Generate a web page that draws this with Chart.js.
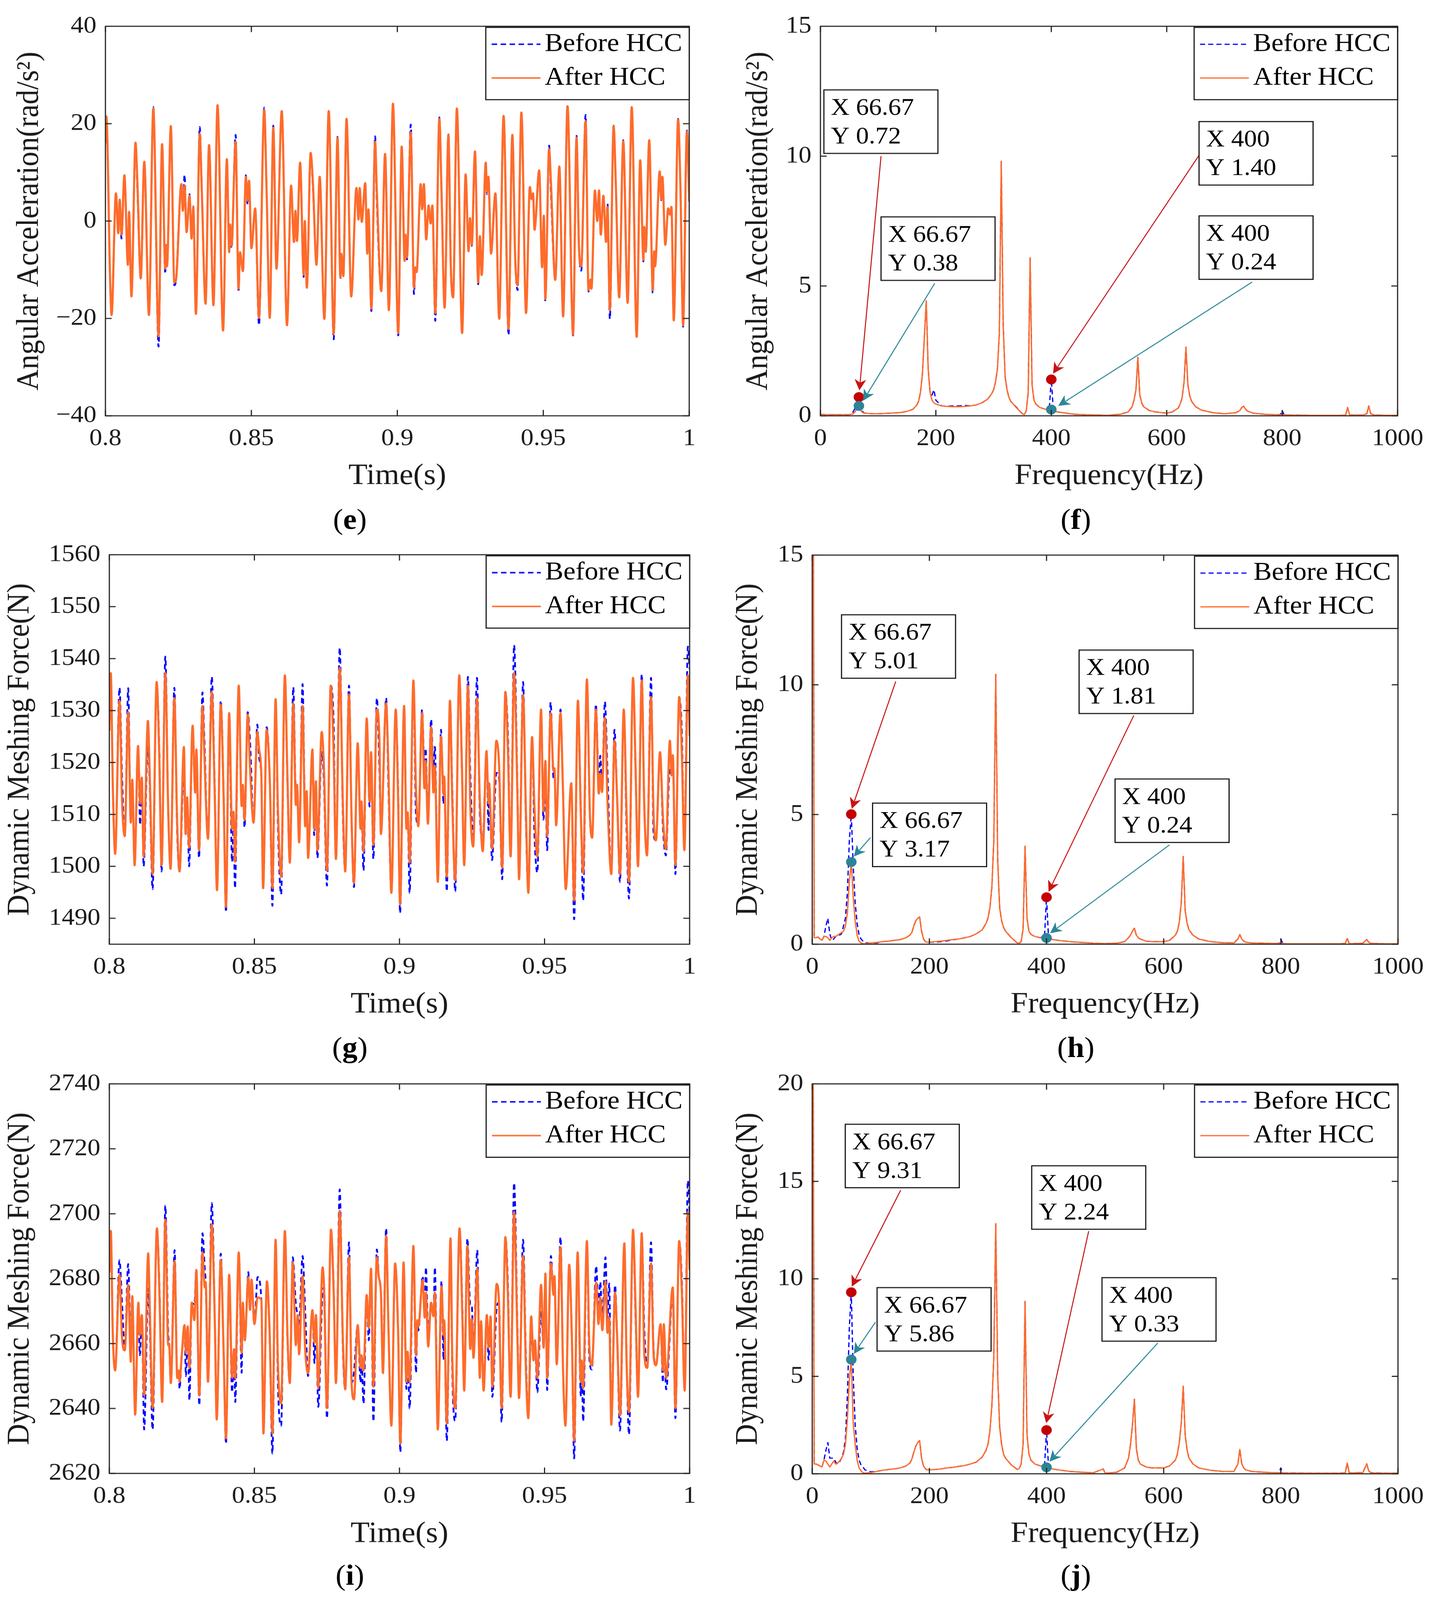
<!DOCTYPE html>
<html>
<head>
<meta charset="utf-8">
<script src="https://cdn.jsdelivr.net/npm/chart.js@4.4.1/dist/chart.umd.min.js"></script>
<style>
  html, body { margin: 0; padding: 0; background: #fff; overflow: hidden; }
  #page { position: relative; width: 3662px; height: 4360px; overflow: hidden; background: #fff; transform-origin: 0 0; }
  .cap { position: absolute; font-family: "Liberation Serif", serif; font-size: 78px; color: #000;
         transform: translate(-50%, -50%); white-space: nowrap; line-height: 1; }
</style>
</head>
<body>
<div id="page"></div>
<script>
/* ---------- tick labels ---------- */
var timeTicks = [0.8, 0.85, 0.9, 0.95, 1];
var freqTicks = [0, 200, 400, 600, 800, 1000];
var eYTicks = [-40, -20, 0, 20, 40];
var gYTicks = [1490, 1500, 1510, 1520, 1530, 1540, 1550, 1560];
var iYTicks = [2620, 2640, 2660, 2680, 2700, 2720, 2740];
var fYTicks = [0, 5, 10, 15];
var jYTicks = [0, 5, 10, 15, 20];

var seriesNames = ['Before HCC', 'After HCC'];

/* ---------- (e) angular acceleration, time domain ---------- */
var eT = [
  0.8000,0.8003,0.8016,0.8021,0.8036,0.8044,0.8049,0.8055,0.8065,0.8077,
  0.8081,0.8089,0.8103,0.8109,0.8121,0.8133,0.8149,0.8164,0.8182,0.8194,
  0.8205,0.8208,0.8211,0.8224,0.8236,0.8242,0.8260,0.8265,0.8271,0.8278,
  0.8288,0.8295,0.8301,0.8310,0.8323,0.8330,0.8343,0.8355,0.8370,0.8384,
  0.8403,0.8416,0.8424,0.8427,0.8432,0.8446,0.8456,0.8461,0.8471,0.8481,
  0.8487,0.8492,0.8500,0.8513,0.8526,0.8544,0.8552,0.8563,0.8575,0.8586,
  0.8604,0.8622,0.8636,0.8646,0.8651,0.8656,0.8667,0.8679,0.8683,0.8690,
  0.8703,0.8711,0.8723,0.8734,0.8750,0.8765,0.8782,0.8795,0.8805,0.8808,
  0.8815,0.8826,0.8842,0.8860,0.8867,0.8871,0.8878,0.8890,0.8897,0.8901,
  0.8911,0.8924,0.8929,0.8945,0.8958,0.8971,0.8985,0.9003,0.9015,0.9025,
  0.9028,0.9033,0.9046,0.9057,0.9062,0.9066,0.9080,0.9085,0.9091,0.9099,
  0.9107,0.9114,0.9120,0.9130,0.9144,0.9151,0.9162,0.9175,0.9183,0.9191,
  0.9204,0.9222,0.9234,0.9244,0.9249,0.9255,0.9266,0.9277,0.9283,0.9289,
  0.9303,0.9307,0.9312,0.9321,0.9336,0.9349,0.9364,0.9381,0.9394,0.9404,
  0.9412,0.9425,0.9441,0.9454,0.9460,0.9465,0.9470,0.9486,0.9496,0.9502,
  0.9507,0.9520,0.9526,0.9541,0.9555,0.9568,0.9583,0.9602,0.9614,0.9622,
  0.9630,0.9645,0.9655,0.9662,0.9665,0.9677,0.9685,0.9691,0.9697,0.9706,
  0.9715,0.9720,0.9728,0.9741,0.9748,0.9760,0.9774,0.9789,0.9803,0.9820,
  0.9832,0.9843,0.9846,0.9851,0.9863,0.9875,0.9880,0.9883,0.9899,0.9904,
  0.9908,0.9918,0.9928,0.9934,0.9939,0.9947,0.9962,0.9970,0.9979,0.9992,
  1.0000
];
var eAfter = [
  16,21.5,-12,-19.3,5.7,-2.5,4.4,-2.8,9.4,-9,
  1.9,-15.5,16.1,8.8,-11.8,12.2,-19.3,23.1,-23.7,15.8,
  -9.8,-4.9,-9.3,19.5,-12.6,-12,7.6,2.1,7.3,-2.3,
  5.2,-3.6,2.9,-19.1,17.9,6.5,-17,15.6,-17.3,23.8,
  -22.5,12.7,-6.4,-0.7,-5.1,16.3,-13.9,-6.4,-10.3,9.1,
  4.2,8.3,-5.6,2.6,-19.9,22.8,6.5,-19.9,19.2,-9.8,
  22.6,-21.4,7.3,-4.3,2.1,-4.1,12,-11,0,-13.7,
  14,7.6,-9,9.1,-20.1,22.6,-23.2,17.1,-11.6,-6.7,
  -11.3,21,-15.5,6.8,0.3,6.8,-0.2,7.8,-6.7,2.4,
  -18,16.3,7.6,-14.4,13.8,-18.3,24.1,-23,15.3,-8.2,
  -2.8,-7.5,18.2,-13.7,-9.5,-10.5,7.6,2.4,7.6,-3.8,
  3.2,-0.5,3.2,-18.9,21,7,-17.8,17.7,-8.8,-15.7,
  23.1,-23,9.6,-6.2,0.6,-4.9,14.3,-12.6,-3.1,-11.1,
  12,6,9.1,-6.7,5.7,-20.1,21.6,-22.2,17.7,-8,
  -13.2,22.3,-18.9,7,4.5,5.7,-1.8,10.4,-9.5,1.1,
  -16,14.8,8.3,-12.1,11.2,-19.6,23.6,-23.3,17.1,-4.9,
  -9.3,20.5,-14.2,-12,-13.9,6.3,0,6.3,-2.8,5.2,
  -4.3,2.9,-18.3,19.5,8.6,-15.7,16.4,-16.8,23.4,-23.8,
  12.5,-8,-1.2,-6.2,16.6,-14.2,-6.2,-9.3,10.2,4.5,
  9.1,-4.9,2.6,1.3,2.9,-20.4,20.8,6.5,-21.4,18.4,
  4
];
var eBefore = [
  16,21.5,-12,-19.3,5.7,-2.5,4.4,-3.6,9.4,-9,
  1.9,-15.5,16.1,7.3,-11.8,12.2,-19.3,23.4,-25.8,15.8,
  -10.8,-4.9,-9.3,19.5,-13.2,-12,7.6,2.1,9.5,-2.3,
  5.5,-3.6,3,-19.1,19.3,6.8,-17,15.6,-17.3,23.8,
  -22.5,12.7,-6.4,-0.7,-5.6,17.7,-14.6,-6.4,-10.3,9.4,
  3.4,8.3,-5.6,2.3,-21.4,23.3,6.5,-19.9,19.6,-9.8,
  22.6,-21.4,7.3,-4.6,2.1,-4.1,12,-11.5,0,-13.8,
  14,6.8,-9,9.1,-20.1,22.6,-24.3,17.3,-11.9,-6.7,
  -11.3,21,-15.5,6.8,0.3,7,-0.2,7.8,-6.7,2.4,
  -18.5,17.4,5.6,-14.4,13.8,-18.3,24.1,-23.5,15.5,-8.2,
  -2.8,-7.9,19.8,-15,-9.5,-10.5,7.6,2.4,7.6,-3.8,
  3.2,-0.5,3.2,-20.5,21.3,7,-17.8,17.8,-9.3,-15.7,
  23.1,-23,9.6,-6.2,0.7,-5.1,14.3,-13,-3.1,-11.1,
  12,5.5,9.1,-6.7,5.7,-20.1,21.6,-23.4,18,-8,
  -14.2,22.3,-18.9,7,4.5,5.7,-1.8,10.5,-9.5,1.1,
  -16.5,15.5,6.2,-12.1,11.2,-19.6,23.6,-23.5,17.5,-4.9,
  -10.2,21.8,-14.5,-12,-13.9,6.3,0,6.3,-2.8,5.2,
  -4.3,3.6,-20.1,19.6,8.6,-15.7,16.6,-16.8,23.4,-23.8,
  12.5,-8.3,-1.2,-6.3,16.6,-14.8,-6.2,-9.3,10.2,4.3,
  9.2,-4.9,2.6,1.3,2.9,-20.4,21,6.5,-21.7,18.6,
  4
];

/* ---------- (g) dynamic meshing force, time domain ---------- */
var gT = [
  0.8000,0.8005,0.8012,0.8020,0.8035,0.8044,0.8053,0.8065,0.8074,0.8079,
  0.8087,0.8099,0.8106,0.8112,0.8118,0.8133,0.8139,0.8149,0.8163,0.8172,
  0.8180,0.8193,0.8203,0.8211,0.8224,0.8234,0.8242,0.8257,0.8263,0.8268,
  0.8275,0.8287,0.8296,0.8300,0.8309,0.8321,0.8327,0.8340,0.8353,0.8363,
  0.8371,0.8384,0.8394,0.8402,0.8413,0.8423,0.8428,0.8433,0.8446,0.8456,
  0.8460,0.8466,0.8477,0.8485,0.8497,0.8510,0.8516,0.8524,0.8530,0.8542,
  0.8553,0.8562,0.8573,0.8581,0.8592,0.8605,0.8614,0.8622,0.8634,0.8643,
  0.8647,0.8654,0.8666,0.8675,0.8680,0.8685,0.8700,0.8706,0.8712,0.8717,
  0.8732,0.8739,0.8750,0.8763,0.8773,0.8781,0.8794,0.8805,0.8813,0.8826,
  0.8835,0.8843,0.8856,0.8866,0.8869,0.8876,0.8887,0.8897,0.8902,0.8910,
  0.8922,0.8931,0.8936,0.8954,0.8962,0.8972,0.8987,0.8995,0.9002,
  0.9016,0.9024,0.9028,0.9035,0.9048,0.9057,0.9065,0.9078,0.9086,0.9090,
  0.9098,0.9109,0.9117,0.9122,0.9132,0.9143,0.9152,0.9154,0.9163,0.9174,
  0.9182,0.9192,0.9206,0.9215,0.9223,0.9236,0.9244,0.9254,0.9267,0.9277,
  0.9287,0.9300,0.9307,0.9309,0.9319,0.9334,0.9343,0.9354,0.9365,0.9374,
  0.9383,0.9395,0.9407,0.9412,0.9426,0.9436,0.9444,0.9457,0.9465,0.9475,
  0.9488,0.9496,0.9503,0.9509,0.9521,0.9531,0.9534,0.9540,0.9555,0.9563,
  0.9573,0.9592,0.9602,0.9615,0.9625,0.9633,0.9646,0.9656,0.9664,0.9677,
  0.9687,0.9692,0.9698,0.9708,0.9717,0.9730,0.9741,0.9750,0.9760,0.9773,
  0.9783,0.9791,0.9805,0.9814,0.9822,0.9835,0.9844,0.9853,0.9867,0.9876,
  0.9884,0.9898,0.9908,0.9918,0.9932,0.9938,0.9942,0.9951,0.9964,0.9973,
  0.9982,0.9994,1.0000
];
var gAfter = [
  1526.1,1537.2,1515.4,1502.4,1531.9,1512.3,1505.8,1529.7,1508.4,1516.7,
  1500.2,1523.2,1512.1,1517.1,1501.9,1528,1518.1,1498.5,1535.5,1521.3,
  1500.2,1537.2,1510.6,1499.5,1532.4,1507.9,1499,1523,1506.2,1513.3,
  1503.6,1527.1,1514.2,1522.5,1503.1,1530.9,1522.2,1505.3,1533.6,1514.5,
  1495.4,1531.2,1513,1492.2,1529.5,1507.2,1510.5,1500.9,1534.8,1511.6,
  1515.7,1508.9,1529.2,1518.8,1508.4,1525.9,1522.7,1517.1,1495.8,1526.3,
  1516.7,1495.8,1532.2,1511.1,1498,1536.8,1516.9,1500.7,1531.4,1511.8,
  1515.7,1504.6,1530.9,1507.7,1514.5,1501.6,1522.5,1507.2,1516.4,1503.1,
  1525.9,1520,1499.2,1534.8,1522.2,1501.4,1538.2,1511.8,1499,1533.1,
  1508.7,1496.8,1523.7,1507.2,1512.5,1502.9,1528.5,1512.5,1522,1504.1,
  1530.2,1523.9,1506.2,1531.4,1518.4,1494.9,1530.2,1513.8,1492.7,
  1530.9,1507.2,1510.4,1500.7,1535.8,1514.7,1507.7,1529.5,1515,1520.3,
  1508.2,1526.8,1514.2,1519.3,1497,1525,1513.8,1517.3,1498,1531.9,
  1512.5,1497.3,1536.8,1519.8,1500.2,1534.8,1511.8,1503.8,1532.4,1512.5,
  1502.9,1522.2,1512.1,1516,1503.4,1524.2,1519.8,1499.7,1533.6,1521.7,
  1501.9,1537.2,1512.5,1497.5,1532.9,1510.1,1494.9,1524.9,1511.6,1501.9,
  1530.2,1510.6,1520.3,1505.8,1529.5,1518.4,1518.9,1507.9,1529.5,1515.7,
  1495.6,1516,1493.4,1531.9,1510.1,1498.7,1536,1510.6,1505.5,1530.2,
  1514,1517.9,1514.3,1528.6,1512.5,1498.5,1524.2,1513.3,1498.5,1530.2,
  1509.6,1497,1536.3,1518.4,1500,1535.8,1511.1,1502.1,1532.6,1509.6,
  1505,1522,1509.6,1503.3,1524.2,1517.5,1521.4,1500.2,1532.6,1522.2,
  1503.1,1536.8,1525.1
];
var gBefore = [
  1526.1,1537.2,1515.4,1502.4,1534.4,1517,1505.8,1534.3,1508.4,1516.7,
  1500.2,1523.2,1508,1517.1,1500,1523,1516,1495.6,1535.5,1523,
  1499,1540.4,1510.6,1499.5,1534.4,1506,1499,1518.5,1506.2,1513.3,
  1500,1527.1,1514.2,1522.5,1501.6,1533.5,1525.4,1505.3,1536.5,1516,
  1495.4,1531.9,1514,1491.2,1529.5,1500.9,1508,1495.8,1534.8,1511.6,
  1515.7,1507.5,1529.7,1524,1508.4,1527.3,1521,1517.1,1495.4,1526.8,
  1516.7,1492.4,1532.2,1508,1494.6,1536.8,1515.5,1500.7,1534.5,1514,
  1515.7,1504.6,1535.1,1510,1514.5,1501.6,1522.5,1506,1516.4,1501.6,
  1522,1517,1496.3,1534.8,1527.5,1501.4,1542.1,1509.3,1499,1534.8,
  1508.7,1496,1523.7,1507.2,1511,1499.2,1528.5,1511.5,1522,1501.4,
  1532.4,1518.5,1506.2,1532.4,1515,1494.9,1530.2,1516,1491,
  1530.9,1507.2,1510.4,1494.9,1535.8,1510,1508,1530.2,1519,1522.7,
  1510,1528.3,1519,1523,1497,1526.3,1512,1517.3,1495.2,1531.9,
  1515,1495.2,1536.8,1520.3,1500.2,1536.5,1518,1505,1536.3,1510,
  1505,1522.2,1507,1516,1501.2,1518,1517,1497.5,1533.6,1525,
  1501.9,1542.6,1514,1497.5,1535.5,1508,1494.9,1524.9,1506.5,1498.8,
  1530.2,1509,1515,1503.1,1531.6,1517,1518.9,1507.9,1530.2,1515.7,
  1495.6,1516,1489.8,1531.9,1511,1493.4,1536,1510,1505.5,1531.2,
  1516,1521.3,1515.5,1531.7,1518,1498.5,1526.3,1513.3,1497,1530.2,
  1506,1493.8,1536.3,1517.5,1500,1537,1511.1,1502.1,1536.3,1506,
  1505,1522,1507.5,1502.1,1519,1517.5,1521.4,1498.5,1532.6,1526,
  1503.1,1542.3,1538
];

/* ---------- (i) dynamic meshing force, time domain ---------- */
var iT = [
  0.8000,0.8005,0.8012,0.8020,0.8035,0.8044,0.8053,0.8065,0.8074,0.8079,
  0.8089,0.8100,0.8105,0.8112,0.8120,0.8134,0.8139,0.8149,0.8164,0.8173,
  0.8182,0.8193,0.8203,0.8206,0.8212,0.8225,0.8234,0.8239,0.8242,0.8249,
  0.8259,0.8264,0.8270,0.8276,0.8284,0.8293,0.8300,0.8310,0.8321,0.8329,
  0.8332,0.8340,0.8353,0.8364,0.8370,0.8384,0.8394,0.8402,0.8413,0.8423,
  0.8430,0.8434,0.8446,0.8456,0.8460,0.8467,0.8479,0.8485,0.8490,0.8500,
  0.8511,0.8524,0.8531,0.8543,0.8552,0.8562,0.8573,0.8581,0.8592,0.8605,
  0.8614,0.8622,0.8632,0.8643,0.8649,0.8654,0.8666,0.8675,0.8685,0.8700,
  0.8707,0.8712,0.8720,0.8735,0.8740,0.8750,0.8764,0.8773,0.8781,0.8794,
  0.8805,0.8813,0.8826,0.8835,0.8843,0.8856,0.8866,0.8869,0.8876,0.8887,
  0.8894,0.8902,0.8910,0.8922,0.8929,0.8936,0.8943,0.8954,0.8962,0.8972,
  0.8985,0.8995,0.9003,0.9014,0.9024,0.9028,0.9035,0.9048,0.9057,0.9062,
  0.9065,0.9080,0.9087,0.9091,0.9099,0.9109,0.9117,0.9122,0.9132,0.9145,
  0.9152,0.9154,0.9163,0.9176,0.9182,0.9192,0.9207,0.9217,0.9223,0.9234,
  0.9244,0.9249,0.9255,0.9268,0.9277,0.9281,0.9290,0.9301,0.9307,0.9314,
  0.9320,0.9335,0.9343,0.9352,0.9365,0.9373,0.9383,0.9395,0.9407,0.9412,
  0.9426,0.9436,0.9444,0.9454,0.9462,0.9467,0.9475,0.9488,0.9497,0.9503,
  0.9509,0.9522,0.9531,0.9534,0.9542,0.9555,0.9564,0.9572,0.9585,0.9594,
  0.9602,0.9614,0.9625,0.9628,0.9633,0.9646,0.9654,0.9663,0.9678,0.9686,
  0.9692,0.9699,0.9710,0.9717,0.9723,0.9730,0.9743,0.9750,0.9760,0.9775,
  0.9783,0.9791,0.9805,0.9814,0.9822,0.9835,0.9844,0.9854,0.9867,0.9876,
  0.9884,0.9900,0.9908,0.9911,0.9919,0.9942,0.9951,0.9964,0.9973,0.9983,
  0.9994,1.0000
];
var iAfter = [
  2681.9,2694.7,2662.6,2651.7,2681.2,2661.4,2657.9,2678.1,2654.4,2674.6,
  2638.1,2672.6,2662.6,2668.8,2644,2687.8,2672.6,2640.1,2695.5,2674.2,
  2642,2698.2,2659.5,2660,2647.8,2685.4,2649.4,2651.7,2648.2,2655.6,
  2665.7,2657.1,2665.3,2652.5,2672.6,2667.2,2682.7,2644,2688.1,2677.3,
  2679,2648.2,2696.7,2664.9,2636.6,2685.8,2657.1,2630.8,2681.2,2649.4,
  2658.3,2649.4,2688.1,2657.1,2672.6,2661,2680.4,2670.4,2679.7,2666,
  2674.2,2673.4,2632.3,2679.2,2664.9,2632.3,2692,2654,2641.6,2694.7,
  2662.6,2647.8,2685,2659.5,2668.8,2656.7,2680.8,2658.3,2650.9,2670.3,
  2660.2,2668.8,2646.3,2683.5,2677.3,2640.1,2695.1,2676.5,2647.8,2700.9,
  2661,2645.9,2686.6,2647.8,2642.8,2665.7,2652.5,2656.4,2651.7,2675,
  2664.9,2683.1,2646.7,2686.6,2680.4,2675.7,2650.9,2693.2,2664.9,2634.7,
  2684.7,2664.9,2629.2,2685,2648.2,2657.5,2648.2,2690.1,2656.4,2667.2,
  2665.3,2679.6,2668,2675.7,2659.1,2672.6,2668.4,2675.7,2633.5,2677.7,
  2662.6,2667.2,2635.4,2692.4,2655.6,2640.1,2695.5,2667.2,2645.5,2690.1,
  2658.3,2667.6,2655.6,2683.1,2649.4,2666.9,2645.5,2668.8,2658.7,2668.4,
  2646.7,2678.4,2672.6,2640.1,2692.8,2676.5,2643.6,2700.5,2659.9,2643.2,
  2687,2651,2637,2668.4,2654.8,2661,2649.4,2678.1,2658.7,2681.6,
  2649.4,2684.7,2675,2680.8,2653.6,2689.7,2651,2634.7,2684.3,2662.6,
  2630,2688.1,2648.2,2654.8,2646.3,2691.6,2660.2,2653.3,2678.8,2666,
  2674.2,2664.1,2679.2,2663.3,2668,2635,2675.7,2662.6,2637.8,2690.9,
  2653.3,2638.9,2695.1,2670.3,2643.6,2694,2656.4,2652.5,2684.7,2656.4,
  2653.3,2666,2651.7,2666,2649.4,2677.3,2640.1,2691.6,2676.5,2645.5,
  2700.5,2682.7
];
var iBefore = [
  2681.9,2694.7,2662.6,2651.7,2685.7,2672,2658,2684.5,2660,2674.6,
  2638.1,2672.6,2656.4,2668.8,2633.5,2677,2667,2633.5,2695.5,2676.5,
  2642,2702.5,2663,2660,2647.8,2688.8,2649.4,2651.7,2646,2655.6,
  2664,2650,2665.3,2642.5,2672.6,2672,2682.7,2641,2694,2683,
  2679,2648.2,2703.3,2664.9,2636.6,2687.7,2657.1,2629.2,2681.2,2645,
  2658.3,2642,2688.1,2651,2672.6,2661,2682,2670.4,2679,2666,
  2680.5,2673.4,2632.3,2679.2,2664.9,2626.1,2692,2648,2634.7,2694.7,
  2661,2647.8,2686.6,2672,2668.8,2666,2687,2670,2650,2670.3,
  2654,2668.8,2640.5,2676,2677.3,2637,2695.1,2678,2647.8,2707.5,
  2658,2645.9,2691.2,2647.8,2651,2665.7,2648,2656.4,2641.5,2675,
  2661,2683.1,2636,2689,2680.4,2675.7,2655,2695.5,2664.9,2634.7,
  2684.7,2664.9,2626.5,2685,2646,2657.5,2640,2690.1,2651,2667.2,
  2664,2680.8,2668,2683.5,2663,2672.6,2668.4,2683.5,2633.5,2679.2,
  2655,2667.2,2630,2692.4,2651,2636.2,2695.5,2670,2645.5,2692.4,
  2672,2672,2658,2688.8,2649.4,2666.9,2648,2668.8,2655,2668.4,
  2643.6,2671,2672.6,2635.8,2692.8,2680.5,2643.6,2709.5,2663,2643.2,
  2692,2655,2637,2664,2654.8,2660,2645,2670,2659,2679,
  2645.7,2687,2675,2680.8,2653.6,2692.8,2651,2634.7,2684.3,2662.6,
  2624.6,2688.1,2644,2654.8,2636,2691.6,2656,2652,2683.9,2671,
  2679,2668,2686.6,2668,2678.5,2635,2678,2662.6,2633.2,2690.9,
  2654,2632,2695.1,2667,2643.6,2694,2664,2652.5,2691.2,2658,
  2653.3,2666,2648,2666,2645.9,2675,2637,2691.6,2680,2645.5,
  2710.2,2700
];

/* ---------- spectra (f), (h), (j) ---------- */
var specF = [
  0,3.33,6.67,10,13.33,16.67,20,23.33,26.67,30,
  33.33,36.67,40,43.33,46.67,50,53.33,56.67,60,63.33,
  66.67,70,73.33,76.67,80,83.33,86.67,90,100,110,
  120,130,140,150,160,166.67,170,173.33,176.67,180,
  183.33,186.67,190,193.33,196.67,200,210,220,230,240,
  250,260,270,280,290,296.67,300,303.33,306.67,310,
  313.33,316.67,320,323.33,326.67,330,340,346.67,350,353.33,
  356.67,360,363.33,366.67,370,373.33,380,390,396.67,400,
  403.33,410,420,440,460,480,496.67,500,503.33,520,
  533.33,540,543.33,546.67,550,553.33,556.67,560,570,580,
  600,610,620,623.33,626.67,630,633.33,636.67,640,643.33,
  650,660,680,700,720,726.67,730,733.33,736.67,740,
  750,770,790,796.67,800,803.33,810,850,900,910,
  913.33,916.67,920,940,946.67,950,953.33,960,980,1000
];
var fAfter = [
  0.05,0.05,0.05,0.04,0.04,0.04,0.04,0.05,0.04,0.04,
  0.05,0.04,0.04,0.05,0.04,0.05,0.06,0.08,0.15,0.3,
  0.38,0.2,0.12,0.1,0.1,0.09,0.09,0.08,0.08,0.09,
  0.1,0.11,0.13,0.17,0.25,0.4,0.55,0.9,1.6,3.0,
  4.43,1.8,0.9,0.6,0.5,0.45,0.38,0.36,0.35,0.35,
  0.36,0.38,0.42,0.5,0.65,0.85,1.0,1.3,1.8,3.2,
  9.8,3.5,1.5,1.0,0.7,0.55,0.3,0.15,0.08,0.05,
  0.2,0.9,6.08,1.2,0.6,0.45,0.32,0.25,0.24,0.24,
  0.2,0.15,0.12,0.06,0.04,0.03,0.02,0.02,0.03,0.06,
  0.15,0.35,0.6,1.0,2.25,0.8,0.5,0.35,0.2,0.15,
  0.1,0.15,0.3,0.45,0.7,1.3,2.64,1.2,0.75,0.55,
  0.35,0.22,0.12,0.08,0.12,0.2,0.32,0.37,0.25,0.18,
  0.1,0.06,0.04,0.04,0.05,0.04,0.03,0.02,0.02,0.03,
  0.32,0.04,0.03,0.03,0.08,0.38,0.08,0.03,0.02,0.02
];
var fBefore = [
  0.05,0.05,0.05,0.04,0.04,0.04,0.04,0.05,0.04,0.04,
  0.05,0.04,0.04,0.05,0.04,0.05,0.1,0.15,0.3,0.55,
  0.72,0.35,0.15,0.1,0.1,0.09,0.09,0.08,0.08,0.09,
  0.1,0.11,0.13,0.17,0.25,0.4,0.55,0.9,1.6,3.0,
  4.43,1.8,0.9,0.8,1.0,0.6,0.38,0.37,0.38,0.38,
  0.4,0.38,0.42,0.5,0.65,0.85,1.0,1.3,1.8,3.2,
  9.8,3.5,1.5,1.0,0.7,0.55,0.32,0.15,0.08,0.05,
  0.2,0.9,6.08,1.2,0.6,0.45,0.32,0.25,0.35,1.4,
  0.3,0.15,0.12,0.06,0.04,0.03,0.02,0.02,0.03,0.06,
  0.15,0.35,0.6,1.0,2.25,0.8,0.5,0.35,0.2,0.15,
  0.1,0.15,0.3,0.45,0.7,1.3,2.64,1.2,0.75,0.55,
  0.35,0.22,0.12,0.08,0.12,0.2,0.32,0.37,0.25,0.18,
  0.1,0.06,0.04,0.04,0.2,0.04,0.03,0.02,0.02,0.03,
  0.32,0.04,0.03,0.03,0.08,0.38,0.08,0.03,0.02,0.02
];
var hAfter = [
  40,0.25,0.25,0.28,0.2,0.15,0.3,0.3,0.25,0.15,
  0.25,0.3,0.3,0.35,0.4,0.45,0.5,0.7,1.2,2.4,
  3.17,1.8,0.9,0.35,0.12,0.05,0.02,0.02,0.05,0.07,
  0.1,0.12,0.15,0.18,0.25,0.35,0.45,0.7,0.9,1.0,
  1.05,0.5,0.2,0.1,0.08,0.08,0.1,0.12,0.15,0.18,
  0.2,0.25,0.3,0.4,0.55,0.8,1.0,1.4,2.2,4.0,
  10.4,3.2,1.4,0.9,0.65,0.5,0.25,0.12,0.05,0.04,
  0.1,0.6,3.78,1.0,0.5,0.38,0.3,0.25,0.24,0.24,
  0.22,0.18,0.15,0.1,0.07,0.04,0.03,0.02,0.03,0.04,
  0.1,0.25,0.35,0.5,0.62,0.35,0.25,0.2,0.12,0.1,
  0.1,0.15,0.35,0.5,0.85,1.6,3.38,1.3,0.8,0.55,
  0.35,0.2,0.1,0.06,0.05,0.2,0.37,0.2,0.12,0.08,
  0.05,0.04,0.03,0.03,0.03,0.03,0.02,0.02,0.02,0.03,
  0.22,0.03,0.02,0.04,0.18,0.08,0.04,0.03,0.02,0.02
];
var hBefore = [
  40,0.25,0.25,0.28,0.2,0.15,0.3,0.7,1.0,0.4,
  0.15,0.2,0.3,0.35,0.35,0.4,0.7,1.0,2.0,4.0,
  5.01,3.0,1.6,0.8,0.35,0.2,0.12,0.06,0.04,0.05,
  0.1,0.12,0.15,0.18,0.25,0.35,0.45,0.7,0.9,1.0,
  1.05,0.5,0.2,0.1,0.08,0.08,0.08,0.1,0.13,0.17,
  0.2,0.25,0.3,0.4,0.55,0.8,1.0,1.4,2.2,4.0,
  10.4,3.2,1.4,0.9,0.65,0.5,0.25,0.12,0.05,0.04,
  0.1,0.6,3.78,1.0,0.5,0.38,0.3,0.25,0.35,1.81,
  0.3,0.18,0.15,0.1,0.07,0.04,0.03,0.02,0.03,0.04,
  0.1,0.25,0.35,0.5,0.62,0.35,0.25,0.2,0.12,0.1,
  0.1,0.15,0.35,0.5,0.85,1.6,3.38,1.3,0.8,0.55,
  0.35,0.2,0.1,0.06,0.05,0.2,0.37,0.2,0.12,0.08,
  0.05,0.04,0.03,0.03,0.2,0.03,0.02,0.02,0.02,0.03,
  0.22,0.03,0.02,0.04,0.18,0.08,0.04,0.03,0.02,0.02
];
var jAfter = [
  40,0.5,0.5,0.45,0.4,0.35,0.7,0.65,0.5,0.35,
  0.5,0.65,0.5,0.55,0.65,0.8,1.0,1.5,2.8,4.8,
  5.86,2.6,1.5,0.7,0.3,0.15,0.05,0.03,0.06,0.12,
  0.18,0.22,0.25,0.3,0.4,0.55,0.75,1.1,1.4,1.6,
  1.7,0.8,0.4,0.25,0.2,0.2,0.22,0.25,0.3,0.33,
  0.38,0.42,0.5,0.6,0.85,1.2,1.5,2.2,3.5,6.0,
  12.84,5.0,2.4,1.5,1.0,0.8,0.45,0.3,0.22,0.27,
  0.5,1.5,8.84,2.0,1.0,0.7,0.5,0.4,0.35,0.33,
  0.3,0.25,0.2,0.12,0.08,0.05,0.25,0.04,0.03,0.08,
  0.3,0.8,1.5,2.5,3.82,1.3,0.7,0.5,0.35,0.3,
  0.3,0.4,0.7,1.0,1.6,2.6,4.49,2.0,1.2,0.8,
  0.5,0.3,0.18,0.12,0.12,0.5,1.25,0.5,0.3,0.2,
  0.12,0.08,0.05,0.05,0.06,0.05,0.04,0.03,0.03,0.05,
  0.55,0.06,0.04,0.06,0.51,0.15,0.06,0.04,0.03,0.03
];
var jBefore = [
  40,0.5,0.5,0.45,0.4,0.35,0.7,1.2,1.6,0.8,
  0.8,0.8,0.6,0.5,0.6,0.8,1.1,1.8,4.0,7.5,
  9.31,5.0,2.5,1.3,0.7,0.45,0.35,0.2,0.1,0.12,
  0.18,0.22,0.25,0.3,0.4,0.55,0.75,1.1,1.4,1.6,
  1.7,0.8,0.4,0.25,0.2,0.2,0.22,0.25,0.3,0.33,
  0.38,0.42,0.5,0.6,0.85,1.2,1.5,2.2,3.5,6.0,
  12.84,5.0,2.4,1.5,1.0,0.8,0.45,0.3,0.22,0.27,
  0.5,1.5,8.84,2.0,1.0,0.7,0.5,0.4,0.45,2.24,
  0.4,0.25,0.2,0.12,0.08,0.05,0.25,0.04,0.03,0.08,
  0.3,0.8,1.5,2.5,3.82,1.3,0.7,0.5,0.35,0.3,
  0.3,0.4,0.7,1.0,1.6,2.6,4.49,2.0,1.2,0.8,
  0.5,0.3,0.18,0.12,0.12,0.5,1.25,0.5,0.3,0.2,
  0.12,0.08,0.05,0.05,0.3,0.05,0.04,0.03,0.03,0.05,
  0.55,0.06,0.04,0.06,0.51,0.15,0.06,0.04,0.03,0.03
];

/* ---------- data tips ---------- */
var tipX = [66.67, 66.67, 400, 400];
var fTipY = [0.72, 0.38, 1.40, 0.24];
var hTipY = [5.01, 3.17, 1.81, 0.24];
var jTipY = [9.31, 5.86, 2.24, 0.33];

/* ---------- styles and placement ---------- */
var FONT = '"Liberation Serif", "Times New Roman", serif';
var INK = '#1a1a1a';
var BLUE = '#0000FF';
var ORANGE = '#FF6B2A';
var RED = '#C81414';
var TEAL = '#2A8797';
var TICK_LEN = 16;

// tip boxes: [left, top] of the box, arrow tail and head, all in data units
var fTipPlace = [
  { box: [6, 12.55],     tail: [105, 10.0],    head: [67.5, 0.98] },
  { box: [105, 7.66],    tail: [198, 5.1],     head: [74, 0.58] },
  { box: [656, 11.33],   tail: [656, 10.03],   head: [403, 1.62] },
  { box: [656, 7.7],     tail: [748, 5.15],    head: [412, 0.38] }
];
var hTipPlace = [
  { box: [50, 12.7],     tail: [142.6, 10.13], head: [67.5, 5.22] },
  { box: [103, 5.44],    tail: [99.5, 4.11],   head: [71, 3.38] },
  { box: [455.6, 11.34], tail: [549, 8.82],    head: [403.5, 2.02] },
  { box: [517, 6.37],    tail: [610, 3.83],    head: [406, 0.42] }
];
var jTipPlace = [
  { box: [56.4, 17.93],  tail: [151, 14.55],   head: [67.5, 9.6] },
  { box: [110.7, 9.55],  tail: [108, 7.78],    head: [71, 6.15] },
  { box: [374.7, 15.8],  tail: [472, 12.45],   head: [399.5, 2.6] },
  { box: [494.7, 10.06], tail: [590, 6.71],    head: [405, 0.62] }
];

var accTitle = 'Angular Acceleration(rad/s\u00B2)';
var forceTitle = 'Dynamic Meshing Force(N)';

var PANELS = [
  { tag: 'e', col: 0,    area: [270, 1765, 69, 1133],   xr: [0.8, 1], xt: timeTicks, yr: [-40, 40], yt: eYTicks,
    xTitle: 'Time(s)', yTitle: accTitle, yTitleX: 76, xTitleY: 1298, cap: [896, 1415],
    x: eT, before: eBefore, after: eAfter, time: true },
  { tag: 'f', col: 1830, area: [2101, 3579, 69, 1133],  xr: [0, 1000], xt: freqTicks, yr: [0, 15], yt: fYTicks,
    xTitle: 'Frequency(Hz)', yTitle: accTitle, yTitleX: 1943, xTitleY: 1298, cap: [2755, 1415],
    x: specF, before: fBefore, after: fAfter, time: false, tipY: fTipY, tipPlace: fTipPlace },
  { tag: 'g', col: 0,    area: [280, 1766, 1509, 2573], xr: [0.8, 1], xt: timeTicks, yr: [1485, 1560], yt: gYTicks,
    xTitle: 'Time(s)', yTitle: forceTitle, yTitleX: 52, xTitleY: 2738, cap: [896, 2854],
    x: gT, before: gBefore, after: gAfter, time: true },
  { tag: 'h', col: 1830, area: [2080, 3580, 1510, 2573], xr: [0, 1000], xt: freqTicks, yr: [0, 15], yt: fYTicks,
    xTitle: 'Frequency(Hz)', yTitle: forceTitle, yTitleX: 1917, xTitleY: 2738, cap: [2755, 2854],
    x: specF, before: hBefore, after: hAfter, time: false, tipY: hTipY, tipPlace: hTipPlace },
  { tag: 'i', col: 0,    area: [280, 1766, 2951, 4015], xr: [0.8, 1], xt: timeTicks, yr: [2620, 2740], yt: iYTicks,
    xTitle: 'Time(s)', yTitle: forceTitle, yTitleX: 52, xTitleY: 4181, cap: [896, 4292],
    x: iT, before: iBefore, after: iAfter, time: true },
  { tag: 'j', col: 1830, area: [2080, 3580, 2951, 4016], xr: [0, 1000], xt: freqTicks, yr: [0, 20], yt: jYTicks,
    xTitle: 'Frequency(Hz)', yTitle: forceTitle, yTitleX: 1917, xTitleY: 4181, cap: [2755, 4292],
    x: specF, before: jBefore, after: jAfter, time: false, tipY: jTipY, tipPlace: jTipPlace }
];

/* ---------- plugins ---------- */
// MATLAB style box with inward ticks on all four sides
var matlabAxes = {
  id: 'matlabAxes',
  afterDatasetsDraw: function(chart) {
    var a = chart.chartArea, ctx = chart.ctx, xs = chart.scales.x, ys = chart.scales.y;
    ctx.save();
    ctx.strokeStyle = '#262626';
    ctx.lineWidth = 3;
    ctx.beginPath();
    xs.ticks.forEach(function(t) {
      var px = xs.getPixelForValue(t.value);
      ctx.moveTo(px, a.bottom); ctx.lineTo(px, a.bottom - TICK_LEN);
      ctx.moveTo(px, a.top);    ctx.lineTo(px, a.top + TICK_LEN);
    });
    ys.ticks.forEach(function(t) {
      var py = ys.getPixelForValue(t.value);
      ctx.moveTo(a.left, py);  ctx.lineTo(a.left + TICK_LEN, py);
      ctx.moveTo(a.right, py); ctx.lineTo(a.right - TICK_LEN, py);
    });
    ctx.stroke();
    ctx.strokeRect(a.left, a.top, a.right - a.left, a.bottom - a.top);
    ctx.restore();
  }
};

function drawArrow(ctx, x0, y0, x1, y1, color) {
  var ang = Math.atan2(y1 - y0, x1 - x0);
  var L = 30, W = 15, notch = 21;
  var c = Math.cos(ang), s = Math.sin(ang);
  var bx = x1 - L * c, by = y1 - L * s;
  var nx = x1 - notch * c, ny = y1 - notch * s;
  ctx.strokeStyle = color;
  ctx.lineWidth = 2.6;
  ctx.beginPath(); ctx.moveTo(x0, y0); ctx.lineTo(nx, ny); ctx.stroke();
  ctx.fillStyle = color;
  ctx.beginPath();
  ctx.moveTo(x1, y1);
  ctx.lineTo(bx + W * s, by - W * c);
  ctx.lineTo(nx, ny);
  ctx.lineTo(bx - W * s, by + W * c);
  ctx.closePath();
  ctx.fill();
}

// data tip boxes with arrows
var dataTips = {
  id: 'dataTips',
  afterDraw: function(chart, args, opts) {
    if (!opts.place) return;
    var ctx = chart.ctx, xs = chart.scales.x, ys = chart.scales.y;
    ctx.save();
    opts.place.forEach(function(p, i) {
      var color = (i % 2 === 0) ? RED : TEAL;
      drawArrow(ctx, xs.getPixelForValue(p.tail[0]), ys.getPixelForValue(p.tail[1]),
                xs.getPixelForValue(p.head[0]), ys.getPixelForValue(p.head[1]), color);
    });
    opts.place.forEach(function(p, i) {
      var bx = xs.getPixelForValue(p.box[0]), by = ys.getPixelForValue(p.box[1]);
      var w = 292, h = 173;
      ctx.fillStyle = '#fff';
      ctx.fillRect(bx, by, w, h);
      ctx.strokeStyle = '#1a1a1a';
      ctx.lineWidth = 3;
      ctx.strokeRect(bx, by, w, h);
      ctx.fillStyle = '#000';
      ctx.font = '66px ' + FONT;
      ctx.textBaseline = 'alphabetic';
      ctx.textAlign = 'left';
      ctx.fillText('X ' + String(opts.x[i]), bx + 18, by + 68);
      ctx.fillText('Y ' + opts.y[i].toFixed(2), bx + 18, by + 146);
    });
    ctx.restore();
  }
};

// legend box in the upper right corner of the axes
var boxLegend = {
  id: 'boxLegend',
  afterDraw: function(chart) {
    var a = chart.chartArea, ctx = chart.ctx;
    var w = 521, h = 197, x0 = a.right - w, y0 = a.top + 3;
    ctx.save();
    ctx.fillStyle = '#fff';
    ctx.fillRect(x0, y0, w, h);
    ctx.strokeStyle = '#1a1a1a';
    ctx.lineWidth = 3;
    ctx.strokeRect(x0, y0, w, h);
    [0, 1].forEach(function(i) {
      var ds = chart.data.datasets[i], y = y0 + (i === 0 ? 46 : 138);
      ctx.strokeStyle = ds.borderColor;
      ctx.lineWidth = Math.min(ds.borderWidth, 4);
      ctx.setLineDash(ds.borderDash || []);
      ctx.beginPath(); ctx.moveTo(x0 + 15, y); ctx.lineTo(x0 + 140, y); ctx.stroke();
      ctx.setLineDash([]);
      ctx.fillStyle = '#000';
      ctx.font = '70px ' + FONT;
      ctx.textBaseline = 'middle';
      ctx.textAlign = 'left';
      ctx.fillText(ds.label, x0 + 151, y);
    });
    ctx.restore();
  }
};

/* ---------- build ---------- */
function lineSet(label, xs, ys, color, width, dash, smooth, order) {
  return {
    label: label,
    data: xs.map(function(x, k) { return { x: x, y: ys[k] }; }),
    borderColor: color,
    borderWidth: width,
    borderDash: dash,
    pointRadius: 0,
    fill: false,
    order: order,
    tension: smooth ? 0.4 : 0,
    cubicInterpolationMode: smooth ? 'monotone' : 'default',
    borderJoinStyle: 'round'
  };
}

function fmtTick(v) { return String(v).replace('-', '\u2212'); }

function makePanel(p) {
  var page = document.getElementById('page');
  var cx = p.col, cy = p.area[2] - 60;
  var cw = p.area[1] + 90 - cx, ch = p.xTitleY + 45 - cy;
  var canvas = document.createElement('canvas');
  canvas.width = cw; canvas.height = ch;
  canvas.style.cssText = 'position:absolute;left:' + cx + 'px;top:' + cy + 'px;width:' + cw + 'px;height:' + ch + 'px;';
  page.appendChild(canvas);

  var datasets = p.time ? [
    lineSet(seriesNames[0], p.x, p.before, BLUE, 4.5, [14, 9], true, 2),
    lineSet(seriesNames[1], p.x, p.after, ORANGE, 5.5, [], true, 1)
  ] : [
    lineSet(seriesNames[0], p.x, p.before, BLUE, 3.2, [13, 8], false, 2),
    lineSet(seriesNames[1], p.x, p.after, ORANGE, 3.4, [], false, 1)
  ];
  if (p.tipY) {
    datasets.push({
      label: 'tips',
      data: tipX.map(function(x, k) { return { x: x, y: p.tipY[k] }; }),
      showLine: false,
      pointRadius: 13.5,
      pointHoverRadius: 13.5,
      pointBorderWidth: 0,
      pointBackgroundColor: tipX.map(function(x, k) { return k % 2 === 0 ? '#C40000' : '#2D8496'; }),
      order: 0
    });
  }

  var tickFont = { family: FONT, size: 66, lineHeight: 1.2 };
  var titleFont = { family: FONT, size: 80, lineHeight: 1 };

  new Chart(canvas.getContext('2d'), {
    type: 'line',
    data: { datasets: datasets },
    options: {
      responsive: false,
      animation: false,
      devicePixelRatio: 1,
      events: [],
      layout: { padding: { left: 0, top: p.area[2] - cy, right: cx + cw - p.area[1], bottom: 0 } },
      plugins: {
        legend: { display: false },
        tooltip: { enabled: false },
        dataTips: { place: p.tipPlace, x: tipX, y: p.tipY }
      },
      scales: {
        x: {
          type: 'linear', min: p.xr[0], max: p.xr[1],
          grid: { display: false, drawTicks: false },
          border: { display: false },
          afterBuildTicks: function(s) { s.ticks = p.xt.map(function(v) { return { value: v }; }); },
          afterFit: function(s) { s.height = cy + ch - p.area[3]; },
          ticks: { font: tickFont, color: INK, padding: 23, maxRotation: 0, autoSkip: false, callback: fmtTick },
          title: { display: true, text: p.xTitle, font: titleFont, color: INK, padding: { top: 0, bottom: 5 } }
        },
        y: {
          type: 'linear', min: p.yr[0], max: p.yr[1],
          grid: { display: false, drawTicks: false },
          border: { display: false },
          afterBuildTicks: function(s) { s.ticks = p.yt.map(function(v) { return { value: v }; }); },
          afterFit: function(s) { s.width = p.area[0] - cx; },
          ticks: { font: tickFont, color: INK, padding: 23, autoSkip: false, callback: fmtTick },
          title: { display: true, text: p.yTitle, font: titleFont, color: INK, padding: { top: p.yTitleX - cx - 40, bottom: 0 } }
        }
      }
    },
    plugins: [matlabAxes, dataTips, boxLegend]
  });

  var cap = document.createElement('div');
  cap.className = 'cap';
  cap.style.left = p.cap[0] + 'px';
  cap.style.top = p.cap[1] + 'px';
  cap.innerHTML = '(<b>' + p.tag + '</b>)';
  page.appendChild(cap);
}

PANELS.forEach(makePanel);

// the figure is laid out on a 3662 x 4360 sheet; fit the sheet to the visible window
(function fitPage() {
  var page = document.getElementById('page');
  var sx = window.innerWidth / 3662, sy = window.innerHeight / 4360;
  if (Math.abs(sx - 1) > 0.002 || Math.abs(sy - 1) > 0.002) {
    page.style.transform = 'scale(' + sx + ',' + sy + ')';
  }
})();
</script>
</body>
</html>
